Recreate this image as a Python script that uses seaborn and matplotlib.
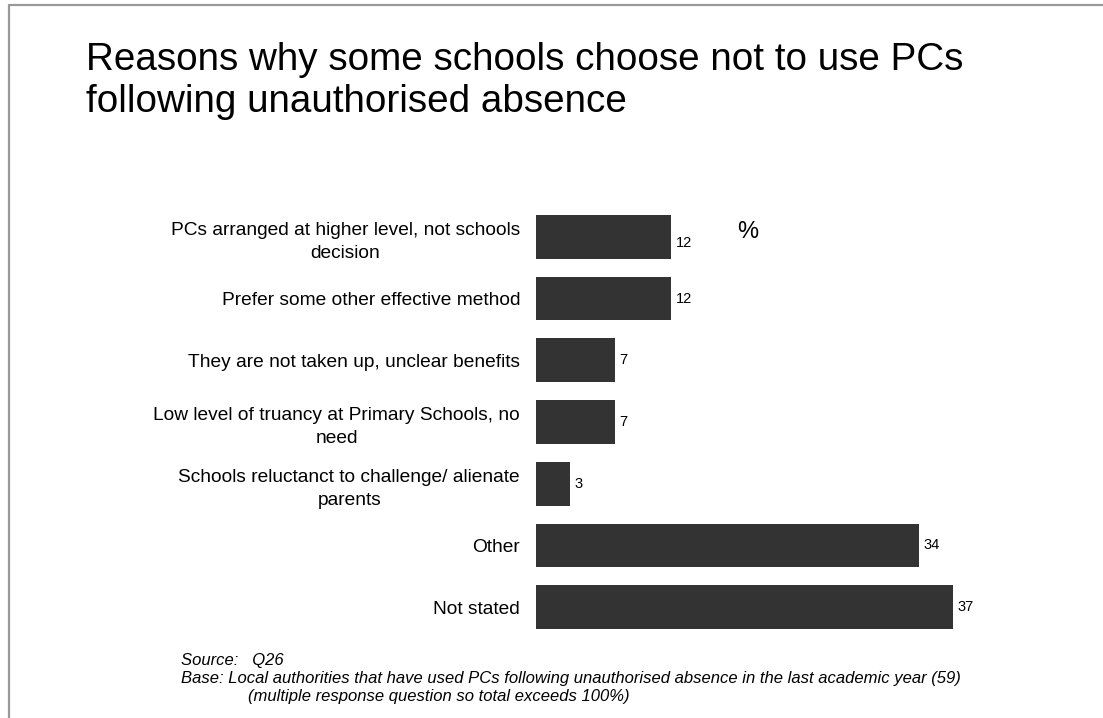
import matplotlib
matplotlib.use("Agg")
import matplotlib.pyplot as plt
from matplotlib.lines import Line2D
import pandas as pd
import seaborn as sns

sns.set_style("white")
plt.rcParams['font.family'] = ['Liberation Sans', 'DejaVu Sans']
plt.rcParams['text.color'] = 'black'
plt.rcParams['ytick.color'] = 'black'

# data
reasons = [
    "PCs arranged at higher level, not schools\ndecision",
    "Prefer some other effective method",
    "They are not taken up, unclear benefits",
    "Low level of truancy at Primary Schools, no\nneed",
    "Schools reluctanct to challenge/ alienate\nparents",
    "Other",
    "Not stated",
]
pct = [12, 12, 7, 7, 3, 34, 37]

df = pd.DataFrame({"reason": reasons, "pct": pct})

W, H = 1103, 718
fig = plt.figure(figsize=(W / 100, H / 100), dpi=100)

# axes placed in pixels to follow the reference layout
x0, x1 = 536, 536 + 11.27 * 40
y_top, y_bot = 206, 638
ax = fig.add_axes([x0 / W, 1 - y_bot / H, (x1 - x0) / W, (y_bot - y_top) / H])

sns.barplot(data=df, x="pct", y="reason", color="#333333", width=0.71,
            saturation=1, ax=ax, orient="h", linewidth=0)
ax.set_xlim(0, 40)
ax.set_xlabel("")
ax.set_ylabel("")
ax.set_xticks([])
sns.despine(ax=ax, left=True, bottom=True)
ax.tick_params(axis="y", length=0, pad=11.5, labelsize=13.8)
for lab in ax.get_yticklabels():
    lab.set_multialignment("center")
    lab.set_linespacing(1.45)

for i, v in enumerate(pct):
    dy = 0.1 if i == 0 else 0
    ax.text(v + 0.4, i + dy, str(v), va="center", ha="left", fontsize=10.5)

fig.text(737 / W, 1 - 232 / H, "%", fontsize=17, ha="left", va="center")

fig.text(86 / W, 1 - 42 / H,
         "Reasons why some schools choose not to use PCs\nfollowing unauthorised absence",
         fontsize=27.8, ha="left", va="top", linespacing=1.2)

foot = dict(fontsize=12, style="italic", va="center")
fig.text(181 / W, 1 - 661 / H, "Source:   Q26", **foot)
fig.text(181 / W, 1 - 679 / H,
         "Base: Local authorities that have used PCs following unauthorised absence in the last academic year (59)",
         **foot)
fig.text(248 / W, 1 - 697 / H, "(multiple response question so total exceeds 100%)", **foot)

# slide frame
fig.add_artist(Line2D([9 / W, 9 / W], [0, 1 - 5 / H], color="#999999", lw=1.6))
fig.add_artist(Line2D([9 / W, 1], [1 - 5 / H, 1 - 5 / H], color="#999999", lw=1.6))

fig.savefig("out.png", dpi=100)
